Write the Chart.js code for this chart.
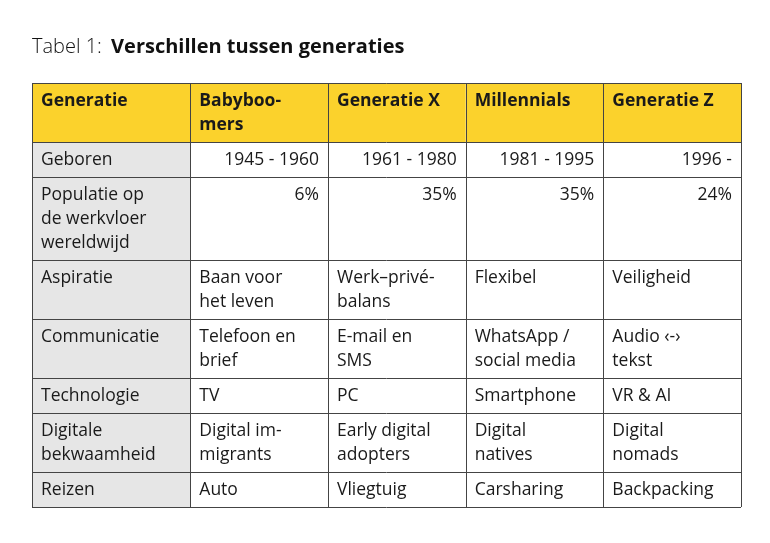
<!DOCTYPE html>
<html><head><meta charset="utf-8">
<script src="https://cdn.jsdelivr.net/npm/chart.js@4.4.0/dist/chart.umd.min.js"></script>
<style>html,body{margin:0;background:#fff}#wrap{width:770px;height:543px;position:relative}</style>
</head><body><div id="wrap"><canvas id="c"></canvas></div>
<script>
const titleLabel = 'Tabel 1:';
const titleText = 'Verschillen tussen generaties';
const headers = ['Generatie', 'Babyboo-\nmers', 'Generatie X', 'Millennials', 'Generatie Z'];
const rowLabels = ['Geboren', 'Populatie op\nde werkvloer\nwereldwijd', 'Aspiratie', 'Communicatie', 'Technologie', 'Digitale\nbekwaamheid', 'Reizen'];
const babyboomers = ['1945 - 1960', '6%', 'Baan voor\nhet leven', 'Telefoon en\nbrief', 'TV', 'Digital im-\nmigrants', 'Auto'];
const generatieX = ['1961 - 1980', '35%', 'Werk\u2013priv\u00e9-\nbalans', 'E-mail en\nSMS', 'PC', 'Early digital\nadopters', 'Vliegtuig'];
const millennials = ['1981 - 1995', '35%', 'Flexibel', 'WhatsApp /\nsocial media', 'Smartphone', 'Digital\nnatives', 'Carsharing'];
const generatieZ = ['1996 -', '24%', 'Veiligheid', 'Audio \u2039-\u203a\ntekst', 'VR & AI', 'Digital\nnomads', 'Backpacking'];
const rightAlignedRows = [0, 1]; // numeric rows

const colEdges = [0, 1.15, 2.15, 3.15, 4.15, 5.15];
const columns = [rowLabels, babyboomers, generatieX, millennials, generatieZ];
const rows = [headers].concat(rowLabels.map((_, r) => columns.map(c => c[r])));
const rowLines = rows.map(r => Math.max(...r.map(t => t.split('\n').length)));
const rowEdges = [0];
rowLines.forEach(n => rowEdges.push(rowEdges[rowEdges.length - 1] + n + 0.45));

const FONT = '"Open Sans", "Noto Sans", sans-serif';

const tablePlugin = {
    id: 'table',
    afterDraw(chart) {
        const ctx = chart.ctx, x = chart.scales.x, y = chart.scales.y;
        ctx.save();
        // title
        ctx.fillStyle = '#111';
        ctx.textBaseline = 'alphabetic';
        ctx.font = '300 20px ' + FONT;
        ctx.fillText(titleLabel, 32, 53);
        const w = ctx.measureText(titleLabel + ' ').width;
        ctx.font = 'bold 20px ' + FONT;
        ctx.fillText(titleText, 32 + w + 4, 53);

        rows.forEach((row, r) => {
            const top = y.getPixelForValue(rowEdges[r]);
            const bot = y.getPixelForValue(rowEdges[r + 1]);
            row.forEach((text, c) => {
                const left = x.getPixelForValue(colEdges[c]);
                const right = x.getPixelForValue(colEdges[c + 1]);
                ctx.fillStyle = r === 0 ? '#fbd22c' : (c === 0 ? '#e6e6e6' : '#ffffff');
                ctx.fillRect(left, top, right - left, bot - top);
                ctx.fillStyle = '#1a1a1a';
                ctx.font = (r === 0 ? 'bold ' : '') + '17.5px ' + FONT;
                ctx.textBaseline = 'top';
                const alignRight = c > 0 && r > 0 && rightAlignedRows.includes(r - 1);
                ctx.textAlign = alignRight ? 'right' : 'left';
                text.split('\n').forEach((line, i) => {
                    ctx.fillText(line, alignRight ? right - 9 : left + 9, top + 9 + i * 24);
                });
            });
        });
        // grid lines
        ctx.strokeStyle = '#444';
        ctx.lineWidth = 1;
        ctx.beginPath();
        const l = x.getPixelForValue(0), rr = x.getPixelForValue(colEdges[colEdges.length - 1]);
        const t = y.getPixelForValue(0), b = y.getPixelForValue(rowEdges[rowEdges.length - 1]);
        rowEdges.forEach(v => { const p = Math.round(y.getPixelForValue(v)) + 0.5; ctx.moveTo(l, p); ctx.lineTo(rr, p); });
        colEdges.forEach(v => { const p = Math.round(x.getPixelForValue(v)) + 0.5; ctx.moveTo(p, t); ctx.lineTo(p, b); });
        ctx.stroke();
        ctx.restore();
    }
};

new Chart(document.getElementById('c'), {
    type: 'scatter',
    data: { datasets: [{ data: [] }] },
    options: {
        responsive: true,
        maintainAspectRatio: false,
        animation: false,
        layout: { padding: { left: 32, right: 29, top: 83, bottom: 36 } },
        plugins: { legend: { display: false }, tooltip: { enabled: false } },
        scales: {
            x: { type: 'linear', display: false, min: 0, max: colEdges[colEdges.length - 1] },
            y: { type: 'linear', display: false, reverse: true, min: 0, max: rowEdges[rowEdges.length - 1] }
        }
    },
    plugins: [tablePlugin]
});
</script></body></html>
